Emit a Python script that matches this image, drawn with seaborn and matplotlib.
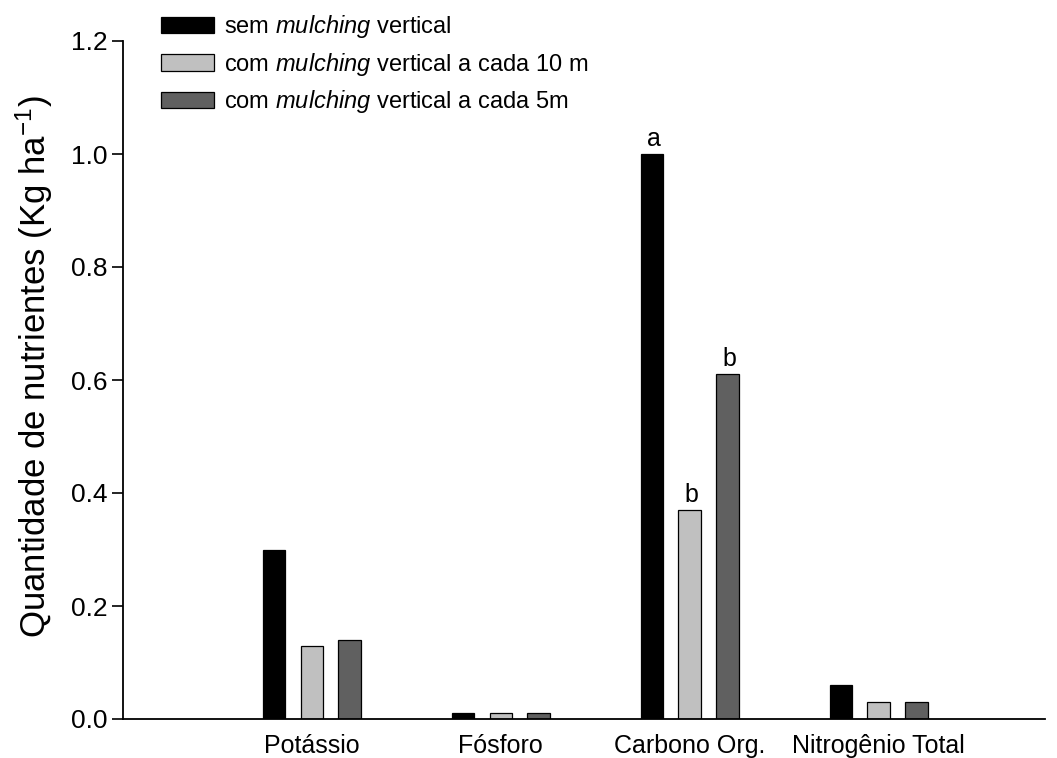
import matplotlib
matplotlib.use("Agg")
import matplotlib.pyplot as plt
import seaborn as sns
import pandas as pd

# Nutrient amounts per treatment (kg/ha)
nutrientes = ["Potássio", "Fósforo", "Carbono Org.", "Nitrogênio Total"]
tratamentos = [
    r"sem $\mathit{mulching}$ vertical",
    r"com $\mathit{mulching}$ vertical a cada 10 m",
    r"com $\mathit{mulching}$ vertical a cada 5m",
]
sem_mulching = [0.30, 0.01, 1.00, 0.06]
mulching_10m = [0.13, 0.01, 0.37, 0.03]
mulching_5m = [0.14, 0.01, 0.61, 0.03]
cores = ["#000000", "#c0c0c0", "#606060"]
letras_carbono = ["a", "b", "b"]

df = pd.DataFrame({
    "nutriente": nutrientes * 3,
    "tratamento": [tratamentos[0]] * 4 + [tratamentos[1]] * 4 + [tratamentos[2]] * 4,
    "valor": sem_mulching + mulching_10m + mulching_5m,
})

sns.set_style("ticks")
plt.rcParams["font.family"] = ["Liberation Sans", "DejaVu Sans"]
plt.rcParams["mathtext.fontset"] = "custom"
plt.rcParams["mathtext.rm"] = "Liberation Sans"
plt.rcParams["mathtext.it"] = "Liberation Sans:italic"
for key in ["text.color", "axes.labelcolor", "xtick.color", "ytick.color", "axes.edgecolor"]:
    plt.rcParams[key] = "black"

fig = plt.figure(figsize=(10.57, 7.58), dpi=100)
ax = fig.add_axes([123 / 1057, 39 / 758, (1045 - 123) / 1057, (719 - 41) / 758])

sns.barplot(
    data=df, x="nutriente", y="valor", hue="tratamento",
    order=nutrientes, hue_order=tratamentos, palette=cores,
    width=0.6, gap=0.4, edgecolor="#000000", linewidth=0.9,
    errorbar=None, ax=ax, saturation=1,
)

ax.set_xlim(-1.0, 3.88)
ax.set_ylim(0, 1.2)
yticks = [0.0, 0.2, 0.4, 0.6, 0.8, 1.0, 1.2]
ax.set_yticks(yticks)
ax.set_yticklabels([f"{v:.1f}" for v in yticks])
ax.set_xlabel("")
ax.set_ylabel("Quantidade de nutrientes (Kg ha$^{\\mathrm{-1}}$)", fontsize=25)
ax.yaxis.set_label_coords(-0.074, 0.52)
ax.tick_params(axis="y", direction="out", length=8, width=1.2, labelsize=19, pad=3)
ax.tick_params(axis="x", length=0, labelsize=18, pad=11)
for side in ["top", "right"]:
    ax.spines[side].set_visible(False)
for side in ["left", "bottom"]:
    ax.spines[side].set_linewidth(1.3)

# Significance letters over the "Carbono Org." bars
idx = nutrientes.index("Carbono Org.")
serie_valores = [sem_mulching, mulching_10m, mulching_5m]
for container, letra, vals in zip(ax.containers, letras_carbono, serie_valores):
    bar = container.patches[idx]
    ax.text(bar.get_x() + bar.get_width() / 2 + 0.01, vals[idx] + 0.006, letra,
            ha="center", va="bottom", fontsize=18)

leg = ax.legend(
    loc="upper left", bbox_to_anchor=(0.031, 1.055), frameon=False,
    fontsize=17, handlelength=2.25, handleheight=0.68, handletextpad=0.42,
    labelspacing=0.45, borderaxespad=0,
)

fig.savefig("out.png", dpi=100)
